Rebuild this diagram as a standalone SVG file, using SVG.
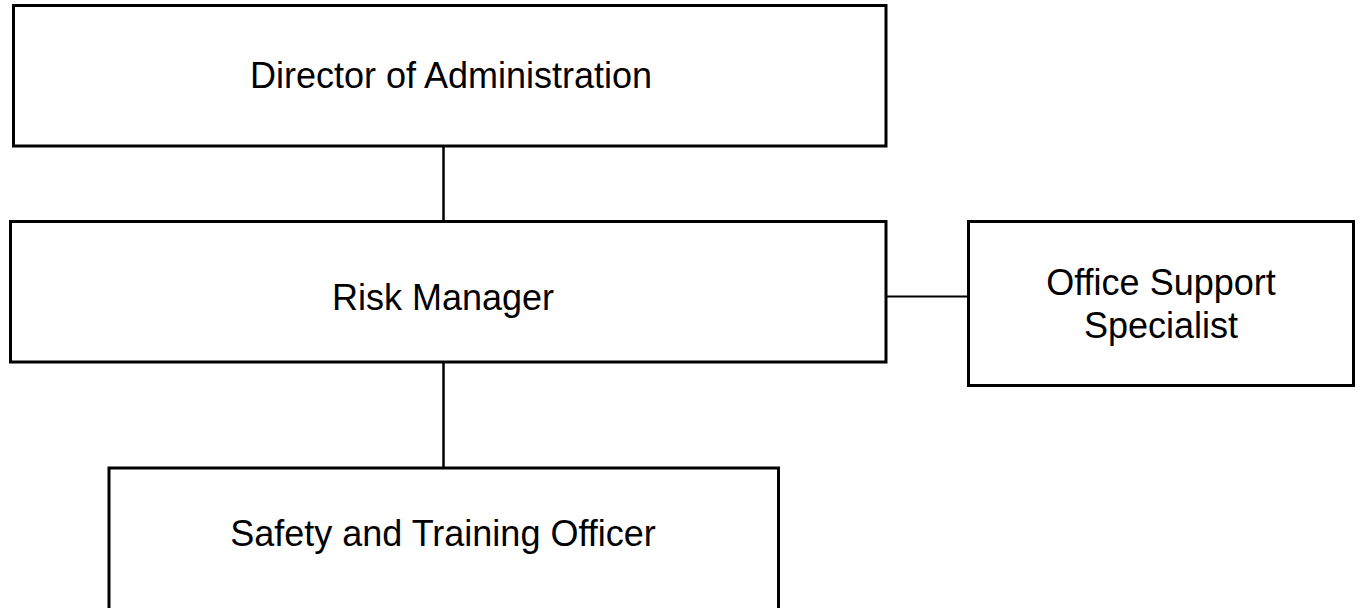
<svg xmlns="http://www.w3.org/2000/svg" width="1367" height="608" viewBox="0 0 1367 608">
  <style>
    .box { fill: #ffffff; stroke: #000000; stroke-width: 3; }
    .label { font-family: "Liberation Sans", Arial, sans-serif; font-size: 36px; fill: #000000; text-anchor: middle; }
    .link { stroke: #000000; fill: none; }
  </style>
  <rect width="1367" height="608" fill="#ffffff"/>

  <g id="connectors">
    <line class="link" x1="443.5" y1="146" x2="443.5" y2="221" stroke-width="2.5"/>
    <line class="link" x1="443.5" y1="362" x2="443.5" y2="468" stroke-width="2.5"/>
    <line class="link" x1="886" y1="296.5" x2="968" y2="296.5" stroke-width="1.8"/>
  </g>

  <g id="director">
    <rect class="box" x="13.5" y="5.5" width="872.5" height="140.5"/>
    <text class="label" x="451" y="88">Director of Administration</text>
  </g>

  <g id="risk-manager">
    <rect class="box" x="10.5" y="221.5" width="875.5" height="140.5"/>
    <text class="label" x="443" y="310">Risk Manager</text>
  </g>

  <g id="office-support">
    <rect class="box" x="968.5" y="221.5" width="385" height="164"/>
    <text class="label" x="1161" y="295">Office Support</text>
    <text class="label" x="1161" y="338">Specialist</text>
  </g>

  <g id="safety-training">
    <rect class="box" x="109" y="468" width="669.5" height="150"/>
    <text class="label" x="443" y="546">Safety and Training Officer</text>
  </g>
</svg>
